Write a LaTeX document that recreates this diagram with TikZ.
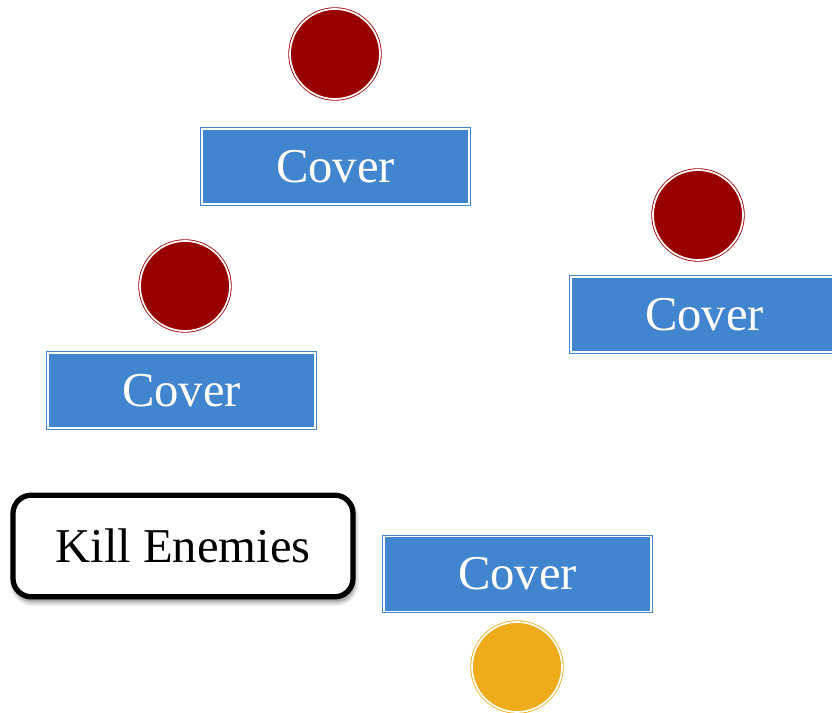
\documentclass[tikz,border=0pt]{standalone}
\usepackage{fontspec}
\setmainfont{Liberation Serif}
\usetikzlibrary{shadows.blur}
\definecolor{coverblue}{HTML}{4285CF}
\definecolor{enemyred}{HTML}{990000}
\definecolor{playeryellow}{HTML}{EFAC1A}
\tikzset{
 coverbox/.style={rectangle,fill=coverblue,draw=coverblue,double=white,line width=0.7pt,double distance=1.5pt,
  minimum width=8.01cm,minimum height=2.25cm,text=white,font=\fontsize{41.5}{48}\selectfont},
 enemy/.style={circle,fill=enemyred,draw=enemyred,double=white,line width=0.7pt,double distance=1.5pt,
  minimum size=2.7cm,inner sep=0pt},
 player/.style={enemy,fill=playeryellow,draw=playeryellow},
 goalbox/.style={rectangle,rounded corners=0.55cm,draw=black,line width=4.5pt,fill=white,
  minimum width=10.2cm,minimum height=3.05cm,font=\fontsize{41.5}{48}\selectfont,
  blur shadow={shadow xshift=0.04cm,shadow yshift=-0.14cm,shadow blur steps=10,shadow blur radius=0.15cm,shadow opacity=55}}
}
\begin{document}
\begin{tikzpicture}[x=0.03cm,y=0.03cm]
 \useasboundingbox (0,0) rectangle (832,713);
 \clip (0,0) rectangle (832,713);
 \node[enemy] (enemy1) at (335,659) {};
 \node[coverbox] (cover1) at (335.5,546.5) {Cover};
 \node[enemy] (enemy2) at (698,498) {};
 \node[coverbox] (cover2) at (704.5,398.5) {Cover};
 \node[enemy] (enemy3) at (185,427) {};
 \node[coverbox] (cover3) at (181.5,322.5) {Cover};
 \node[goalbox] (kill) at (183,167) {Kill Enemies};
 \node[coverbox] (cover4) at (517.5,139) {Cover};
 \node[player] (player) at (517,46) {};
\end{tikzpicture}
\end{document}
